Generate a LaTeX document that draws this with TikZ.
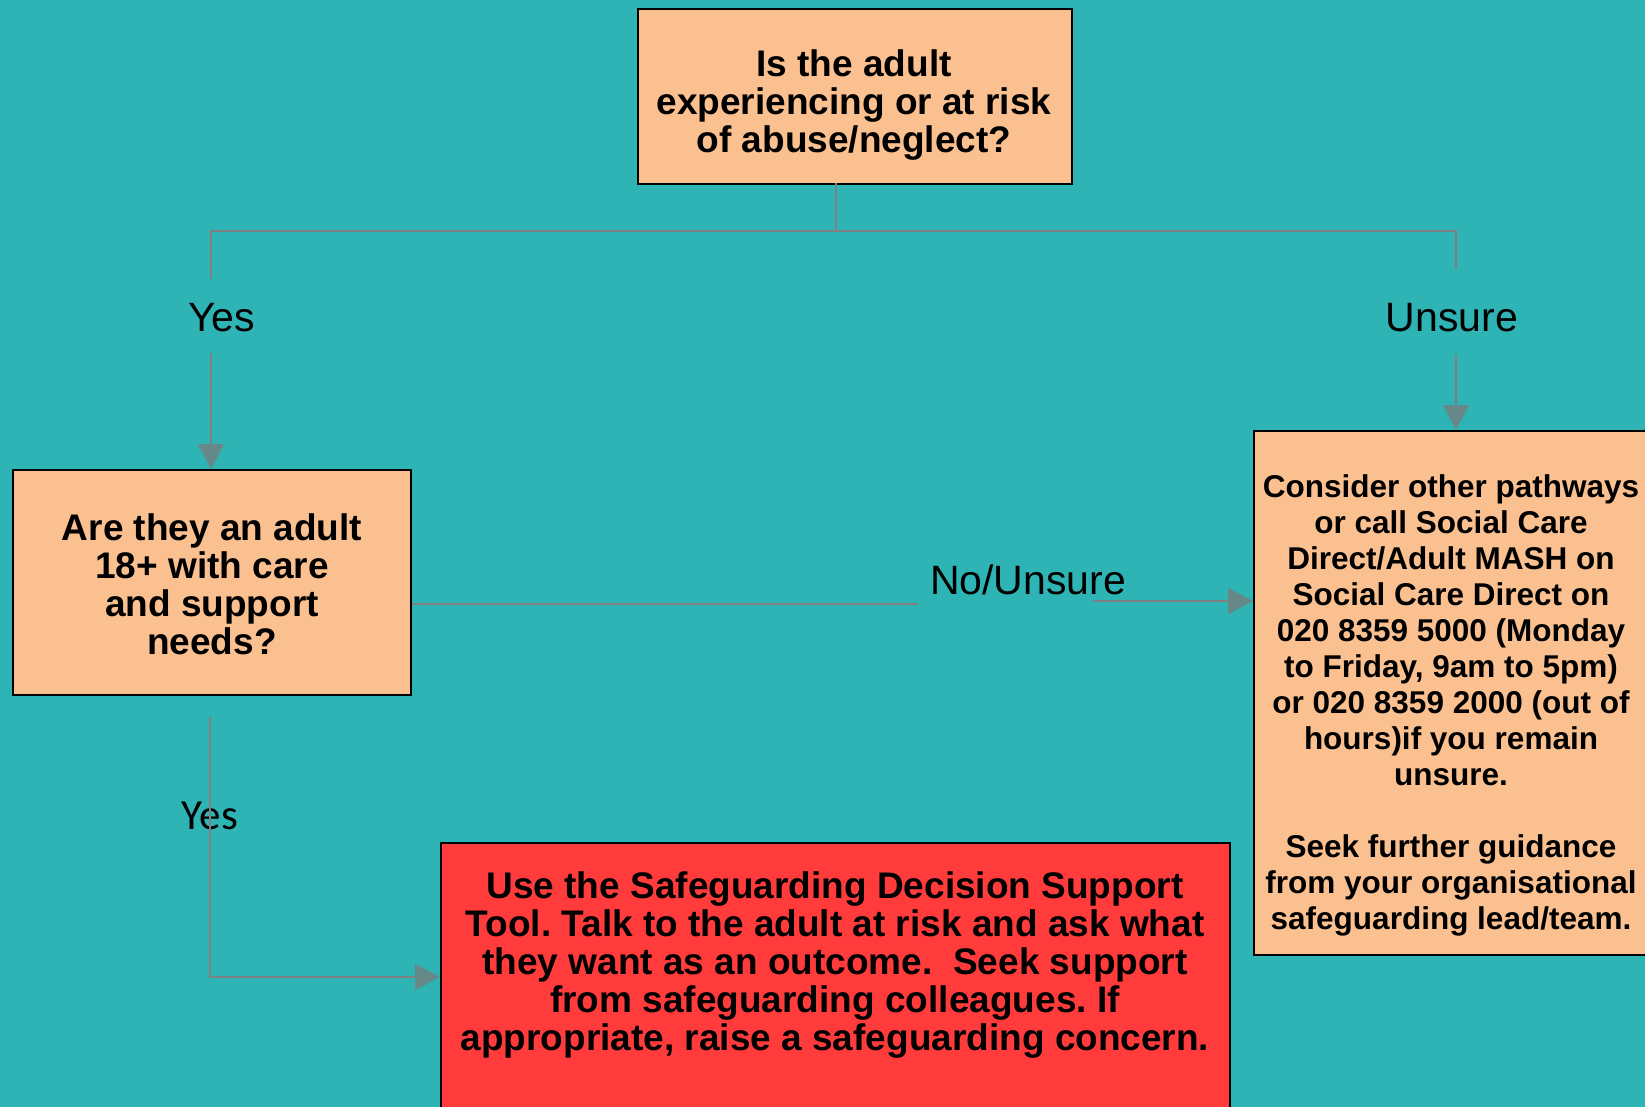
\documentclass[tikz,border=0pt]{standalone}
\usepackage{fontspec}
\setmainfont{Liberation Sans}
\newfontfamily\calib{Carlito}
\usetikzlibrary{arrows.meta}
\definecolor{bgteal}{RGB}{46,180,180}
\definecolor{peach}{RGB}{250,192,144}
\definecolor{redbox}{RGB}{255,59,59}
\definecolor{conncol}{RGB}{128,128,128}
\definecolor{tipcol}{RGB}{102,136,136}
\frenchspacing
\begin{document}
\begin{tikzpicture}[x=1pt,y=-1pt,
  boxst/.style={draw=black,line width=2.2pt,fill=peach,inner sep=0pt,anchor=north west},
  txtst/.style={align=center,font=\bfseries\fontsize{37}{38}\selectfont,inner sep=0pt},
  lbl/.style={font=\fontsize{41}{41}\selectfont,inner sep=0pt,anchor=base},
  conn/.style={draw=conncol,line width=2pt},
  arr/.style={conn,-{Triangle[length=25pt,width=26pt,color=tipcol]}}]
\fill[bgteal] (0,0) rectangle (1645,1107);
\useasboundingbox (0,0) rectangle (1645,1107);

% boxes
\node[boxst,minimum width=434pt,minimum height=175pt] (q1) at (637,8) {};
\node[boxst,minimum width=398pt,minimum height=225pt] (q2) at (12,469) {};
\node[boxst,minimum width=400pt,minimum height=524pt] (adv) at (1253,430) {};
\node[boxst,fill=redbox,minimum width=789pt,minimum height=280pt] (act) at (440,842) {};

% box texts
\node[txtst] (q1t) at (854,105.5) {Is the adult\\experiencing or at risk\\of abuse/neglect?};
\node[txtst] (q2t) at (212,584) {Are they an adult\\18+ with care\\and support\\needs?};
\node[txtst,font=\bfseries\fontsize{31.5}{36}\selectfont] (advt) at (1451,705)
  {Consider other pathways\\or call Social Care\\Direct/Adult MASH on\\Social Care Direct on\\020 8359 5000 (Monday\\to Friday, 9am to 5pm)\\or 020 8359 2000 (out of\\hours)if you remain\\unsure.\\[36pt]Seek further guidance\\from your organisational\\safeguarding lead/team.};
\node[txtst] (actt) at (835,965)
  {Use the Safeguarding Decision Support\\Tool. Talk to the adult at risk and ask what\\they want as an outcome.~ Seek support\\from safeguarding colleagues. If\\appropriate, raise a safeguarding concern.};

% labels
\node[lbl] (yes1) at (221.5,331) {Yes};
\node[lbl] (uns) at (1452,331) {Unsure};
\node[lbl] (nouns) at (1028,594) {No/Unsure};
\node[lbl,font=\calib\fontsize{43}{43}\selectfont] (yes2) at (210,829) {Yes};

% connector points
\coordinate (j) at (836,183);
\coordinate (jm) at (836,231.5);
\coordinate (lt) at (211,231.5);
\coordinate (rt) at (1456,231.5);
\coordinate (l1) at (211,279);
\coordinate (l2) at (211,353);
\coordinate (r1) at (1456,269);
\coordinate (r2) at (1456,354);
\coordinate (n1) at (918,604);
\coordinate (n2) at (1093,601);
\coordinate (b1) at (210,717);
\coordinate (b2) at (210,977);

% connectors
\draw[conn] (j) -- (jm) -- (lt) -- (l1);
\draw[conn] (jm) -- (rt) -- (r1);
\draw[arr] (l2) -- (l2 |- q2.north);
\draw[arr] (r2) -- (r2 |- adv.north);
\draw[conn] (q2.east |- n1) -- (n1);
\draw[arr] (n2) -- (n2 -| adv.west);
\draw[arr] (b1) -- (b2) -- (b2 -| act.west);
\end{tikzpicture}
\end{document}
